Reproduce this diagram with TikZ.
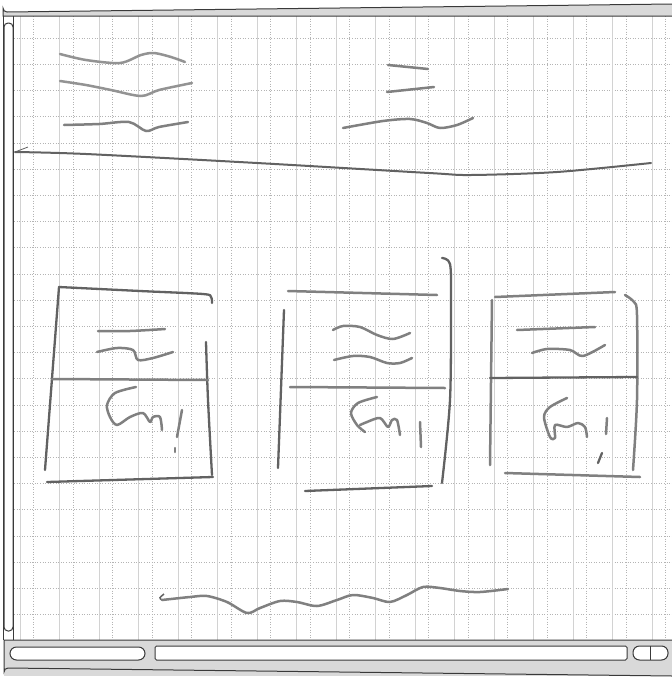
\documentclass[tikz,border=0pt]{standalone}
\usepackage{tikz}
\definecolor{pen}{HTML}{808080}
\definecolor{pendark}{HTML}{626262}
\definecolor{gridc}{HTML}{B4B4B4}
\definecolor{barfill}{HTML}{D9D9D9}
\definecolor{framec}{HTML}{3A3A3A}
\tikzset{
  pencil/.style={draw=pen, line width=2.5pt, line cap=round, line join=round},
  pencildark/.style={draw=pendark, line width=2.3pt, line cap=round, line join=round},
  gridh/.style={draw=gridc, line width=0.6pt, dotted},
  gridv/.style={draw=gridc!60, line width=0.7pt},
  gridvd/.style={draw=gridc, line width=0.6pt, dotted},
  framel/.style={draw=framec, line width=1pt},
}
\begin{document}
\begin{tikzpicture}[x=1pt,y=-1pt]
\useasboundingbox (0,0) rectangle (672,678);
\fill[white] (0,0) rectangle (672,678);
% grid
\begin{scope}
\clip (14,16) rectangle (672,640);
\foreach \k in {0,...,23}{
  \draw[gridh] (14,{38+26.2*\k}) -- (672,{38+26.2*\k});
}
\foreach \k in {0,...,16}{
  \draw[gridv] ({20+39.5*\k},16) -- ({20+39.5*\k},640);
  \draw[gridvd] ({33.5+39.5*\k},16) -- ({33.5+39.5*\k},640);
}
\end{scope}
% window frame
\fill[barfill] (3,16) -- (3,8) arc[start angle=180,end angle=90,radius=4] -- (672,4) -- (672,16) -- cycle;
\draw[framel] (672,16) -- (3,16) -- (3,8) arc[start angle=180,end angle=90,radius=4] -- (672,4);
\draw[framel] (3,16) -- (3,640);
\draw[framel] (13,16) -- (13,640);
\draw[framel, rounded corners=4pt] (4,23) rectangle (13,631);
\fill[barfill] (4,640) rectangle (672,676);
\draw[framel] (672,640) -- (4,640) -- (4,672) arc[start angle=180,end angle=270,radius=4] -- (672,676);
\fill[white, rounded corners=6.5pt] (10,647) rectangle (145,660);
\draw[framel, rounded corners=6.5pt] (10,647) rectangle (145,660);
\fill[white] (155,646) rectangle (627,660);
\draw[framel, rounded corners=1.5pt] (155,646) rectangle (627,660);
\fill[white, rounded corners=6.5pt] (633,646) rectangle (668,660);
\draw[framel, rounded corners=6.5pt] (633,646) rectangle (668,660);
\draw[framel] (650,646) -- (650,660);
% header scribbles
\draw[pencil, draw=pen!85] plot[smooth] coordinates {(60,54) (86,60) (120,63) (141,55) (154,53) (171,57) (185,62)};
\draw[pencil, draw=pen!85] plot[smooth] coordinates {(60,81) (86,85) (111,90) (141,96) (159,90) (192,83)};
\draw[pencil] plot[smooth] coordinates {(64,125) (99,124) (129,122) (146,131) (159,127) (188,122)};
\draw[pencil] (388,65) -- (428,69);
\draw[pencil] (387,92) -- (434,87);
\draw[pencil] plot[smooth] coordinates {(343,128) (383,121) (410,119) (427,123) (440,128) (457,125) (473,118)};
% big separator line
\draw[pendark, line width=0.8pt] (28,147) -- (15,152);
\draw[pencildark, line width=2pt] plot[smooth] coordinates {(15,152) (86,154) (257,163) (429,173) (471,175) (557,172) (651,163)};
% box 1
\draw[pencildark] plot[smooth] coordinates {(59,287) (140,291) (203,294) (211,297) (212,303)};
\draw[pencildark] (59,287) -- (45,470);
\draw[pencildark] plot[smooth] coordinates {(206,342) (208,400) (212,475)};
\draw[pencildark] (47,482) -- (213,477);
\draw[pencil] (52,379) -- (208,380);
\draw[pencil] plot[smooth] coordinates {(98,331) (130,331) (165,329)};
\draw[pencil] plot[smooth] coordinates {(97,352) (117,348) (133,350) (138,360) (153,358) (173,352)};
\draw[pencil] plot[smooth] coordinates {(136,387) (115,393) (107,405) (110,417) (117,425) (130,417) (143,413) (150,422) (153,417) (160,417) (162,430)};
\draw[pencil] (182,410) -- (177,437);
\draw[pencil] (175,448) -- (175,452);
% box 2
\draw[pencil] (288,291) -- (437,295);
\draw[pencildark] (284,310) -- (278,468);
\draw[pencildark] plot[smooth] coordinates {(442,258) (450,264) (451,300) (450,400) (442,483)};
\draw[pencil] (290,387) -- (445,388);
\draw[pencil] plot[smooth] coordinates {(333,330) (343,326) (360,327) (377,335) (393,339) (410,333)};
\draw[pencil] plot[smooth] coordinates {(334,360) (353,356) (370,357) (387,363) (400,363) (412,358)};
\draw[pencil] plot[smooth] coordinates {(377,397) (358,403) (351,413) (357,425) (365,432)};
\draw[pencil] plot[smooth] coordinates {(360,425) (367,422) (380,418) (388,427) (392,420) (397,420) (400,435)};
\draw[pencil] (420,422) -- (421,447);
\draw[pencildark] (305,491) -- (432,486);
% box 3
\draw[pencil] (495,297) -- (615,292);
\draw[pencil] plot[smooth] coordinates {(625,295) (634,302) (637,315) (637,400) (633,470)};
\draw[pencil] (492,300) -- (490,465);
\draw[pencildark] (490,378) -- (637,377);
\draw[pencil] (517,330) -- (595,327);
\draw[pencil] plot[smooth] coordinates {(532,353) (547,349) (570,350) (583,356) (605,345)};
\draw[pencil] plot[smooth] coordinates {(567,398) (550,407) (544,417) (550,437) (555,438) (555,425) (567,427) (578,423) (585,427) (587,437)};
\draw[pencil] (607,418) -- (606,434);
\draw[pencildark] (602,453) -- (598,463);
\draw[pencil] (505,473) -- (640,477);
% bottom wavy line
\draw[pendark, line width=1.5pt] (164,594) .. controls (159,598) .. (162,600);
\draw[pencil] plot[smooth] coordinates {(162,600) (190,597) (207,596) (227,602) (247,613) (260,608) (280,601) (297,602) (317,606) (337,600) (353,595) (373,598) (390,602) (407,595) (423,587) (440,588) (460,591) (480,592) (508,589)};
\end{tikzpicture}
\end{document}
